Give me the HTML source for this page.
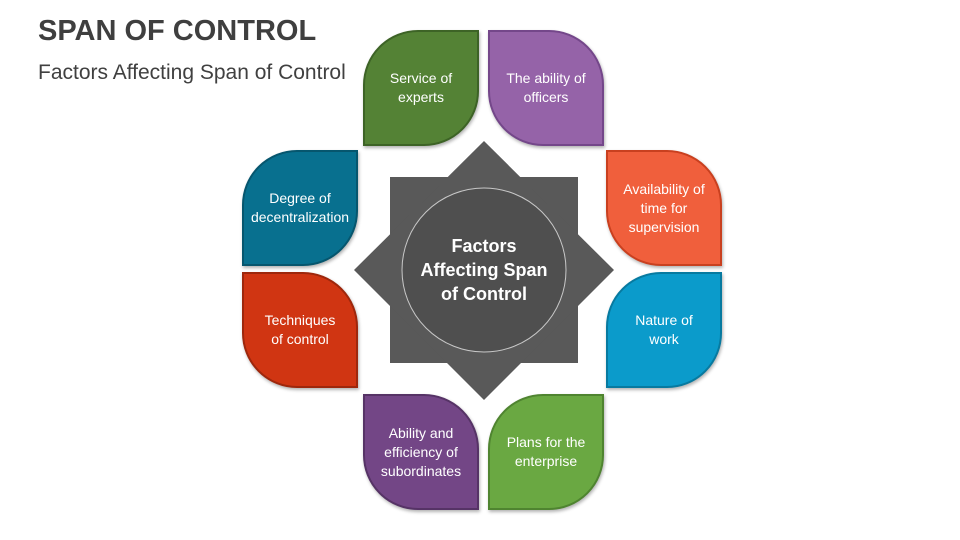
<!DOCTYPE html>
<html><head><style>
body{margin:0;width:960px;height:540px;background:#fff;font-family:"Liberation Sans",sans-serif;position:relative;overflow:hidden}
.t{position:absolute;left:38px;top:15px;font-size:29px;font-weight:bold;color:#3f3f3f}
.s{position:absolute;left:38px;top:61px;font-size:21px;color:#404040}
.p{position:absolute;width:116px;height:116px;box-sizing:border-box;border:2px solid;display:flex;align-items:center;justify-content:center;text-align:center;color:#fff;font-size:14px;line-height:19px;box-shadow:1px 2px 3px rgba(0,0,0,.3)}
.a{border-radius:55px 0 55px 0}.b{border-radius:0 55px 0 55px}
.c{position:absolute;left:404px;top:234px;width:160px;text-align:center;color:#fff;font-size:18px;font-weight:bold;line-height:24px}
</style></head><body>
<div class="t">SPAN OF CONTROL</div>
<div class="s">Factors Affecting Span of Control</div>
<svg width="960" height="540" style="position:absolute;left:0;top:0">
<rect x="390" y="177" width="188" height="186" fill="#595959"/>
<polygon points="484,141 614,270 484,400 354,270" fill="#595959"/>
<circle cx="484" cy="270" r="82" fill="#4f4f4f" stroke="#c8c8c8" stroke-width="1"/>
</svg>
<div class="c">Factors<br>Affecting Span<br>of Control</div>
<div class="p a" style="left:363px;top:30px;background:#548235;border-color:#3d6326">Service of<br>experts</div>
<div class="p b" style="left:488px;top:30px;background:#9563a8;border-color:#74478a">The ability of<br>officers</div>
<div class="p a" style="left:242px;top:150px;background:#08708f;border-color:#06566e">Degree of<br>decentralization</div>
<div class="p b" style="left:606px;top:150px;background:#f05f3c;border-color:#c9401f">Availability of<br>time for<br>supervision</div>
<div class="p b" style="left:242px;top:272px;background:#d03512;border-color:#9e270c">Techniques<br>of control</div>
<div class="p a" style="left:606px;top:272px;background:#0b9bcb;border-color:#077aa0">Nature of<br>work</div>
<div class="p b" style="left:363px;top:394px;background:#734686;border-color:#563366">Ability and<br>efficiency of<br>subordinates</div>
<div class="p a" style="left:488px;top:394px;background:#6aa842;border-color:#4f8430">Plans for the<br>enterprise</div>
</body></html>
